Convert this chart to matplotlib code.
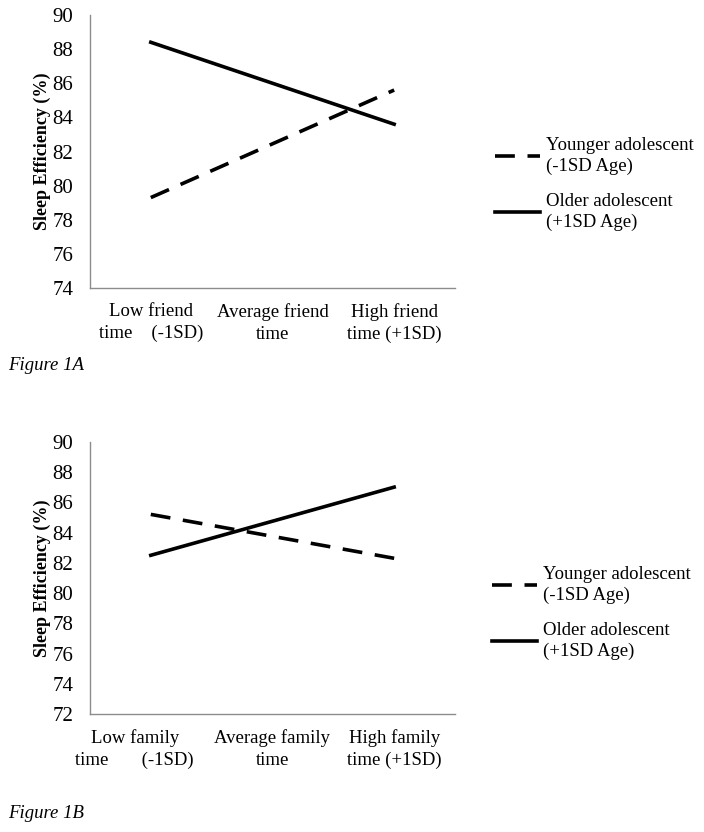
import matplotlib
matplotlib.use("Agg")
import matplotlib.pyplot as plt
from matplotlib.transforms import ScaledTranslation

plt.rcParams['font.family'] = ['Liberation Serif', 'DejaVu Serif']

# Data
ages = ["Younger adolescent\n(-1SD Age)", "Older adolescent\n(+1SD Age)"]
friend_cats = ["Low friend\ntime    (-1SD)", "Average friend\ntime", "High friend\ntime (+1SD)"]
friend_younger = [79.3, None, 85.6]
friend_older = [88.4, None, 83.6]
family_cats = ["Low family\ntime       (-1SD)", "Average family\ntime", "High family\ntime (+1SD)"]
family_younger = [85.2, None, 82.3]
family_older = [82.5, None, 87.0]

fig = plt.figure(figsize=(7.04, 8.32), dpi=100)

def panel(rect, cats, younger, older, ylim, yticks, caption, cap_y, leg_x, leg_y, first_shift=0):
    ax = fig.add_axes(rect)
    x = [0, 2]
    y_y = [younger[0], younger[2]]
    y_o = [older[0], older[2]]
    l1, = ax.plot(x, y_y, color='black', lw=2.6, linestyle=(0, (5.5, 3.5)), label=ages[0])
    l2, = ax.plot(x, y_o, color='black', lw=2.6, linestyle='-', label=ages[1])
    ax.set_xlim(-0.5, 2.5)
    ax.set_ylim(*ylim)
    ax.set_yticks(yticks)
    ax.set_xticks(range(3))
    ax.set_xticklabels(cats, fontsize=13.5, linespacing=1.35)
    ax.tick_params(axis='x', length=0, pad=11)
    ax.tick_params(axis='y', length=0, pad=12, labelsize=15)
    if first_shift:
        lab = ax.get_xticklabels()[0]
        lab.set_transform(lab.get_transform() + ScaledTranslation(first_shift / 100, 0, fig.dpi_scale_trans))
    for s in ['top', 'right']:
        ax.spines[s].set_visible(False)
    for s in ['left', 'bottom']:
        ax.spines[s].set_color('#8c8c8c')
        ax.spines[s].set_linewidth(1.0)
    ax.set_ylabel("Sleep Efficiency (%)", fontsize=13, fontweight='bold', labelpad=1)
    leg = fig.legend(handles=[l1, l2], loc='center left', bbox_to_anchor=(leg_x, leg_y),
                     frameon=False, fontsize=13.5, handlelength=2.4, handletextpad=0.3,
                     labelspacing=0.95)
    for t in leg.get_texts():
        t.set_linespacing(1.3)
    fig.text(0.012, cap_y, caption, fontsize=13.5, style='italic', va='center')
    return ax

panel([0.1278, 0.6538, 0.5185, 0.3282], friend_cats, friend_younger, friend_older,
      (74, 90), list(range(74, 91, 2)), "Figure 1A", 1 - 365/832, 0.679, 1 - 184/832)
panel([0.1278, 0.1415, 0.5185, 0.3276], family_cats, family_younger, family_older,
      (72, 90), list(range(72, 91, 2)), "Figure 1B", 1 - 814/832, 0.675, 1 - 613/832,
      first_shift=-16)

fig.savefig("out.png", dpi=100)
